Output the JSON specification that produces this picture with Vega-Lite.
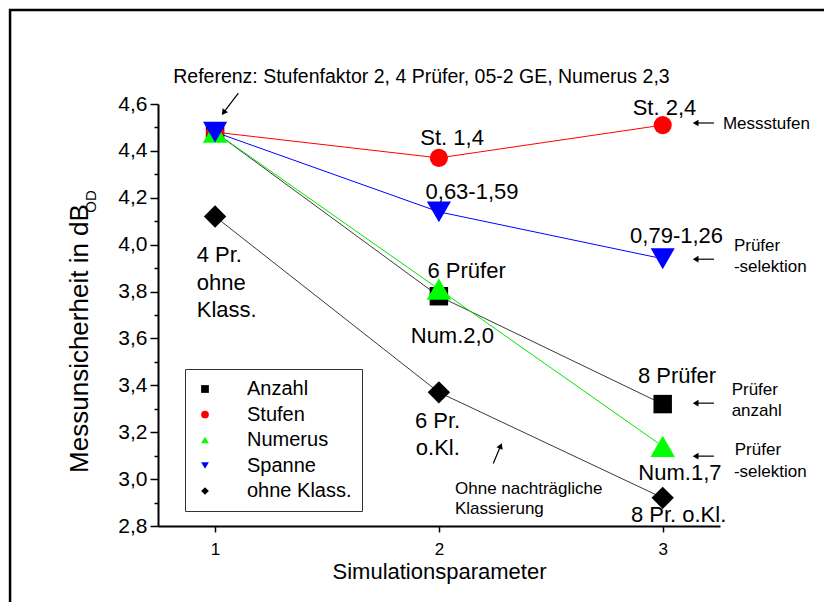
{
  "$schema": "https://vega.github.io/schema/vega-lite/v6.json",
  "width": 562,
  "height": 422,
  "autosize": {"type": "none"},
  "padding": {"left": 158, "top": 104, "right": 104, "bottom": 76},
  "background": "white",
  "config": {
    "view": {"stroke": null},
    "font": "Liberation Sans",
    "axis": {
      "labelFont": "Liberation Sans",
      "titleFont": "Liberation Sans",
      "titleFontWeight": "normal",
      "labelColor": "black",
      "titleColor": "black",
      "domainColor": "black",
      "tickColor": "black",
      "grid": false
    }
  },
  "datasets": {
    "series": [
      {"series": "Anzahl", "x": 1, "y": 4.48},
      {"series": "Anzahl", "x": 2, "y": 3.78},
      {"series": "Anzahl", "x": 3, "y": 3.32},
      {"series": "Stufen", "x": 1, "y": 4.48},
      {"series": "Stufen", "x": 2, "y": 4.37},
      {"series": "Stufen", "x": 3, "y": 4.51},
      {"series": "Numerus", "x": 1, "y": 4.48},
      {"series": "Numerus", "x": 2, "y": 3.81},
      {"series": "Numerus", "x": 3, "y": 3.14},
      {"series": "Spanne", "x": 1, "y": 4.48},
      {"series": "Spanne", "x": 2, "y": 4.14},
      {"series": "Spanne", "x": 3, "y": 3.94},
      {"series": "ohne Klass.", "x": 1, "y": 4.12},
      {"series": "ohne Klass.", "x": 2, "y": 3.37},
      {"series": "ohne Klass.", "x": 3, "y": 2.92}
    ],
    "frame": [
      {"x": 0.084, "y": 5.001, "x2": 4.5, "y2": 2.0}
    ],
    "pointLabels": [
      {"label": "St. 2,4", "x": 3.008, "y": 4.553},
      {"label": "St. 1,4", "x": 2.059, "y": 4.425},
      {"label": "0,63-1,59", "x": 2.148, "y": 4.195},
      {"label": "0,79-1,26", "x": 3.062, "y": 4.007},
      {"label": "6 Prüfer", "x": 2.124, "y": 3.859},
      {"label": "Num.2,0", "x": 2.06, "y": 3.58},
      {"label": "8 Prüfer", "x": 3.064, "y": 3.408},
      {"label": "Num.1,7", "x": 3.077, "y": 2.998},
      {"label": "8 Pr. o.Kl.", "x": 3.071, "y": 2.817}
    ],
    "sideLabels": [
      {"label": "4 Pr.", "x": 0.918, "y": 3.927},
      {"label": "ohne", "x": 0.918, "y": 3.806},
      {"label": "Klass.", "x": 0.918, "y": 3.692},
      {"label": "6 Pr.", "x": 1.893, "y": 3.218},
      {"label": "o.Kl.", "x": 1.897, "y": 3.102}
    ],
    "notes": [
      {"label": "Messstufen", "x": 3.269, "y": 4.492},
      {"label": "Prüfer", "x": 3.318, "y": 3.974},
      {"label": "-selektion", "x": 3.318, "y": 3.884},
      {"label": "Prüfer", "x": 3.308, "y": 3.358},
      {"label": "anzahl", "x": 3.308, "y": 3.268},
      {"label": "Prüfer", "x": 3.322, "y": 3.102},
      {"label": "-selektion", "x": 3.318, "y": 3.009},
      {"label": "Ohne nachträgliche", "x": 2.072, "y": 2.938},
      {"label": "Klassierung", "x": 2.072, "y": 2.853}
    ],
    "reference": [
      {"label": "Referenz: Stufenfaktor 2, 4 Prüfer, 05-2 GE, Numerus 2,3", "x": 1.922, "y": 4.689}
    ],
    "subscript": [
      {"label": "OD", "x": 0.446, "y": 4.184}
    ],
    "arrows": [
      {"x": 1.104, "y": 4.646, "x2": 1.038, "y2": 4.563},
      {"x": 3.229, "y": 4.519, "x2": 3.147, "y2": 4.519},
      {"x": 3.229, "y": 3.938, "x2": 3.147, "y2": 3.938},
      {"x": 3.229, "y": 3.324, "x2": 3.147, "y2": 3.324},
      {"x": 3.229, "y": 3.098, "x2": 3.147, "y2": 3.098},
      {"x": 2.243, "y": 3.067, "x2": 2.276, "y2": 3.142}
    ],
    "headsLeft": [
      {"x": 3.147, "y": 4.519},
      {"x": 3.147, "y": 3.938},
      {"x": 3.147, "y": 3.324},
      {"x": 3.147, "y": 3.098}
    ],
    "headReference": [
      {"x": 1.038, "y": 4.563}
    ],
    "headNote": [
      {"x": 2.276, "y": 3.142}
    ]
  },
  "encoding": {
    "x": {
      "field": "x",
      "type": "quantitative",
      "scale": {"domain": [0.745, 3.256], "nice": false, "zero": false},
      "axis": {
        "values": [1, 2, 3],
        "format": "d",
        "title": "Simulationsparameter",
        "titleFontSize": 22,
        "titleY": 52,
        "titleBaseline": "alphabetic",
        "labelFontSize": 17,
        "labelPadding": 9,
        "tickSize": 6,
        "tickWidth": 1.5,
        "domainWidth": 2
      }
    },
    "y": {
      "field": "y",
      "type": "quantitative",
      "scale": {"domain": [2.8, 4.6], "nice": false, "zero": false},
      "axis": {
        "values": [2.8, 2.9, 3.0, 3.1, 3.2, 3.3, 3.4, 3.5, 3.6, 3.7, 3.8, 3.9, 4.0, 4.1, 4.2, 4.3, 4.4, 4.5, 4.6],
        "title": "Messunsicherheit in dB",
        "titleFontSize": 26,
        "titleX": -71,
        "titleY": 234,
        "titleAngle": -90,
        "titleAlign": "center",
        "titleBaseline": "alphabetic",
        "labelFontSize": 21,
        "labelPadding": 3,
        "labelBaseline": "middle",
        "labelOverlap": false,
        "labelExpr": "round(datum.value * 10) % 2 == 0 ? replace(format(datum.value, '.1f'), '.', ',') : ''",
        "tickSize": {"condition": {"test": "round(datum.value * 10) % 2 == 0", "value": 8}, "value": 4},
        "tickWidth": 1.5,
        "domainWidth": 2
      }
    }
  },
  "layer": [
    {
      "data": {"name": "frame"},
      "mark": {"type": "rect", "filled": false, "fill": "transparent", "stroke": "black", "strokeWidth": 2.5, "clip": false},
      "encoding": {"x2": {"field": "x2"}, "y2": {"field": "y2"}}
    },
    {
      "data": {"name": "series"},
      "mark": {"type": "line", "strokeWidth": 1},
      "encoding": {
        "stroke": {
          "field": "series",
          "type": "nominal",
          "scale": {"range": ["#3a3a3a", "#00e600", "#0000ff", "#ff0000", "#3a3a3a"]},
          "legend": null
        }
      }
    },
    {
      "data": {"name": "series"},
      "mark": {"type": "point", "filled": true, "opacity": 1, "strokeWidth": 0},
      "encoding": {
        "fill": {
          "field": "series",
          "type": "nominal",
          "title": null,
          "scale": {
            "domain": ["Anzahl", "Stufen", "Numerus", "Spanne", "ohne Klass."],
            "range": ["#000000", "#ff0000", "#00ff00", "#0000ff", "#000000"]
          },
          "legend": {
            "orient": "none",
            "legendX": 27,
            "legendY": 265,
            "zindex": 2,
            "strokeColor": "#333333",
            "fillColor": "white",
            "padding": 10,
            "labelFontSize": 20,
            "labelFont": "Liberation Sans",
            "labelColor": "black",
            "labelOffset": 32,
            "labelLimit": 300,
            "rowPadding": 5.5,
            "symbolSize": 60
          }
        },
        "shape": {
          "field": "series",
          "type": "nominal",
          "title": null,
          "scale": {
            "domain": ["Anzahl", "Stufen", "Numerus", "Spanne", "ohne Klass."],
            "range": ["square", "circle", "triangle-up", "triangle-down", "diamond"]
          }
        },
        "size": {
          "field": "series",
          "type": "nominal",
          "scale": {"type": "ordinal", "range": [340, 600, 580, 330, 500]},
          "legend": null
        }
      }
    },
    {
      "data": {"name": "arrows"},
      "mark": {"type": "rule", "stroke": "black", "strokeWidth": 1.2},
      "encoding": {"x2": {"field": "x2"}, "y2": {"field": "y2"}}
    },
    {
      "data": {"name": "headsLeft"},
      "mark": {"type": "point", "shape": "triangle-left", "filled": true, "fill": "black", "opacity": 1, "size": 45, "strokeWidth": 0},
      "encoding": {}
    },
    {
      "data": {"name": "headReference"},
      "mark": {"type": "point", "shape": "triangle-up", "angle": 217, "filled": true, "fill": "black", "opacity": 1, "size": 45, "strokeWidth": 0},
      "encoding": {}
    },
    {
      "data": {"name": "headNote"},
      "mark": {"type": "point", "shape": "triangle-up", "angle": 22, "filled": true, "fill": "black", "opacity": 1, "size": 45, "strokeWidth": 0},
      "encoding": {}
    },
    {
      "data": {"name": "pointLabels"},
      "mark": {"type": "text", "align": "center", "baseline": "alphabetic", "fontSize": 22, "font": "Liberation Sans", "color": "black"},
      "encoding": {"text": {"field": "label"}}
    },
    {
      "data": {"name": "sideLabels"},
      "mark": {"type": "text", "align": "left", "baseline": "alphabetic", "fontSize": 22, "font": "Liberation Sans", "color": "black"},
      "encoding": {"text": {"field": "label"}}
    },
    {
      "data": {"name": "notes"},
      "mark": {"type": "text", "align": "left", "baseline": "alphabetic", "fontSize": 17, "font": "Liberation Sans", "color": "black"},
      "encoding": {"text": {"field": "label"}}
    },
    {
      "data": {"name": "reference"},
      "mark": {"type": "text", "align": "center", "baseline": "alphabetic", "fontSize": 19.5, "font": "Liberation Sans", "color": "black"},
      "encoding": {"text": {"field": "label"}}
    },
    {
      "data": {"name": "subscript"},
      "mark": {"type": "text", "align": "center", "baseline": "middle", "angle": 270, "fontSize": 15, "font": "Liberation Sans", "color": "black"},
      "encoding": {"text": {"field": "label"}}
    }
  ]
}
